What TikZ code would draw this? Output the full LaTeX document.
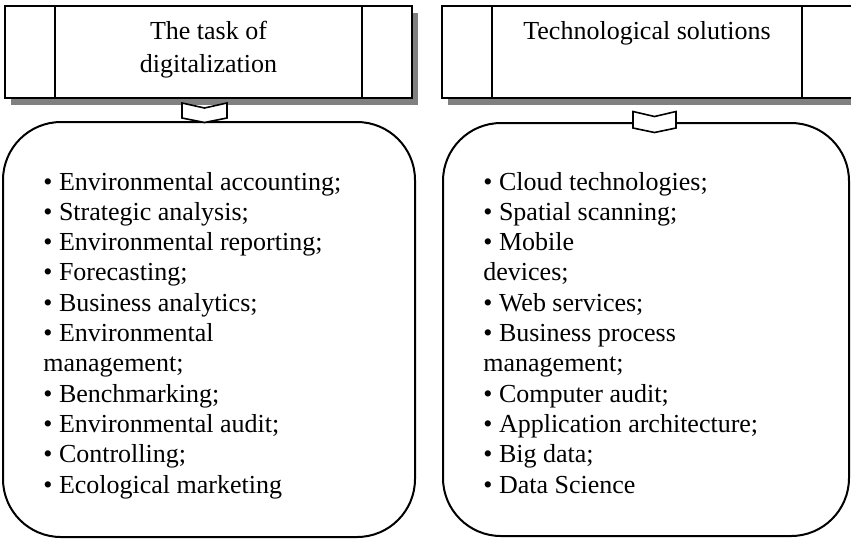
\documentclass[tikz,border=0pt]{standalone}
\usepackage{fontspec}
\setmainfont{Liberation Serif}
\usetikzlibrary{shadows}
\begin{document}
\begin{tikzpicture}[x=0.5pt,y=-0.5pt,
  headbox/.style={draw, fill=white, line width=1pt, rectangle, inner sep=0pt,
    general shadow={fill=black!50, shadow xshift=3pt, shadow yshift=-3.5pt}},
  divider/.style={line width=0.9pt},
  listbox/.style={draw, line width=1pt, rectangle, rounded corners=29pt, inner sep=0pt},
  chev/.style={draw, fill=white, line width=0.8pt, line join=miter},
  txt/.style={font=\fontsize{13}{15}\selectfont, inner sep=0pt},
  item/.style={txt, anchor=base west},
]
\useasboundingbox (0,0) rectangle (851,538);

% header boxes (predefined-process style)
\node[headbox, minimum width=203.5pt, minimum height=46pt] (hL) at (208.5,52) {};
\node[headbox, minimum width=205pt, minimum height=46pt] (hR) at (647,52) {};
\draw[divider] ([xshift=25.5pt]hL.north west) -- ([xshift=25.5pt]hL.south west);
\draw[divider] ([xshift=-25.5pt]hL.north east) -- ([xshift=-25.5pt]hL.south east);
\draw[divider] ([xshift=25.5pt]hR.north west) -- ([xshift=25.5pt]hR.south west);
\draw[divider] ([xshift=-25.5pt]hR.north east) -- ([xshift=-25.5pt]hR.south east);

\node[txt, anchor=base] (hLa) at (208.5,39.5) {The task of};
\node[txt, anchor=base] (hLb) at (208.5,72.5) {digitalization};
\node[txt, anchor=base] (hRa) at (647,39.5) {Technological solutions};

% rounded list boxes
\node[listbox, minimum width=206pt, minimum height=207.5pt] (bL) at (209,329.5) {};
\node[listbox, minimum width=203pt, minimum height=206.5pt] (bR) at (646,329.5) {};

% chevron connectors
\coordinate (cL) at (204.5,103);
\coordinate (cR) at (654.5,111.5);
\draw[chev, shift={(cL)}] (-22.5,0) -- (0,5) -- (22.5,0) -- (22.5,15) -- (0,19.5) -- (-22.5,15) -- cycle;
\draw[chev, shift={(cR)}] (-21.5,0) -- (0,5) -- (21.5,0) -- (21.5,16.5) -- (0,21) -- (-21.5,16.5) -- cycle;

% list contents
\foreach \t [count=\i] in {%
  {• Environmental accounting;},
  {• Strategic analysis;},
  {• Environmental reporting;},
  {• Forecasting;},
  {• Business analytics;},
  {• Environmental},
  {management;},
  {• Benchmarking;},
  {• Environmental audit;},
  {• Controlling;},
  {• Ecological marketing}}
  \node[item] (l\i) at (43,{190+30.3*(\i-1)}) {\t};

\foreach \t [count=\i] in {%
  {• Cloud technologies;},
  {• Spatial scanning;},
  {• Mobile},
  {devices;},
  {• Web services;},
  {• Business process},
  {management;},
  {• Computer audit;},
  {• Application architecture;},
  {• Big data;},
  {• Data Science}}
  \node[item] (r\i) at (483,{190+30.3*(\i-1)}) {\t};
\end{tikzpicture}
\end{document}
